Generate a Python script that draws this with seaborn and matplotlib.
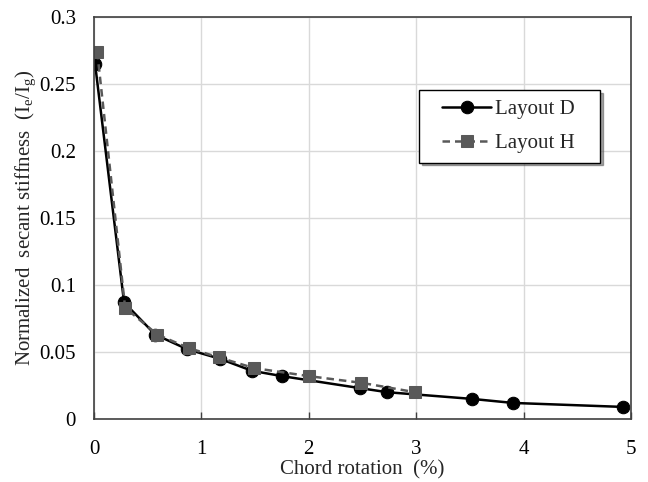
import matplotlib
matplotlib.use("Agg")
import matplotlib.pyplot as plt
import seaborn as sns
import pandas as pd
from matplotlib.legend_handler import HandlerLine2D
from matplotlib.lines import Line2D

x_d = [0.01, 0.28, 0.57, 0.87, 1.17, 1.47, 1.75, 2.48, 2.73, 3.52, 3.90, 4.93]
y_d = [0.265, 0.087, 0.063, 0.052, 0.045, 0.036, 0.032, 0.023, 0.020, 0.015, 0.012, 0.009]
x_h = [0.03, 0.29, 0.59, 0.88, 1.16, 1.49, 2.00, 2.49, 2.99]
y_h = [0.274, 0.083, 0.063, 0.053, 0.046, 0.038, 0.032, 0.027, 0.020]

sns.set_theme(style="whitegrid")
plt.rcParams['font.family'] = ['Liberation Serif', 'DejaVu Serif']
plt.rcParams['mathtext.fontset'] = 'custom'
plt.rcParams['mathtext.rm'] = 'Liberation Serif'
plt.rcParams['mathtext.it'] = 'Liberation Serif'

fig = plt.figure(figsize=(6.48, 4.82), dpi=100)
ax = fig.add_axes([94/648, 1 - 419/482, (631-94)/648, (419-17)/482])

df_d = pd.DataFrame({"x": x_d, "y": y_d})
df_h = pd.DataFrame({"x": x_h, "y": y_h})
sns.lineplot(data=df_d, x="x", y="y", ax=ax, color="black", lw=1.8, marker="o",
             markersize=9, markeredgecolor="black", label="Layout D   ", sort=False)
sns.lineplot(data=df_h, x="x", y="y", ax=ax, color="#595959", lw=1.8, linestyle=(0, (3, 2)),
             marker="s", markersize=8, markeredgecolor="#595959", label="Layout H   ", sort=False)

ax.set_xlim(0, 5)
ax.set_ylim(0, 0.3)
ax.set_xticks([0, 1, 2, 3, 4, 5])
ax.set_xticklabels(["0", "1", "2", "3", "4", "5"])
ax.set_yticks([0, 0.05, 0.1, 0.15, 0.2, 0.25, 0.3])
ax.set_yticklabels(["0", "0.05", "0.1", "0.15", "0.2", "0.25", "0.3"])
ax.grid(True, color="#d9d9d9", lw=1)
for s in ax.spines.values():
    s.set_visible(True)
    s.set_color("#404040")
    s.set_linewidth(1.2)
ax.tick_params(axis="both", labelsize=15, colors="#404040", labelcolor="black",
               direction="in", length=5, width=1, left=False, bottom=True)
ax.tick_params(axis="x", pad=15)
ax.tick_params(axis="y", pad=13)
ax.set_xlabel("Chord rotation  (%)", fontsize=15, labelpad=1)
ax.set_ylabel(r"Normalized  secant stiffness  (I$_\mathrm{e}$/I$_\mathrm{g}$)", fontsize=15, labelpad=1)

leg = ax.legend(loc="upper right", bbox_to_anchor=(0.942, 0.818), borderaxespad=0,
                fontsize=15, frameon=True,
                fancybox=False, shadow=True, edgecolor="black", framealpha=1,
                handlelength=3.0, handletextpad=0.2, borderpad=0.45, labelspacing=0.7,
                handler_map={Line2D: HandlerLine2D(xpad=0.67)})
leg.get_frame().set_linewidth(1)

fig.savefig("out.png", dpi=100)
